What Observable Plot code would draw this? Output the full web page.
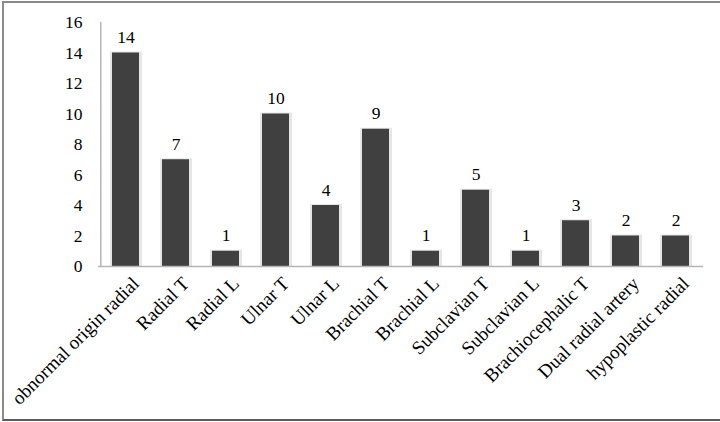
<!DOCTYPE html>
<html><head><meta charset="utf-8">
<script src="https://cdn.jsdelivr.net/npm/d3@7"></script>
<script src="https://cdn.jsdelivr.net/npm/@observablehq/plot@0.6"></script>
<style>
body{margin:0;background:#fff;overflow:hidden}
#wrap{position:relative;width:720px;height:422px;overflow:hidden}
#frame{position:absolute;left:2px;top:1px;width:760px;height:416px;border:2px solid #8a8a8a;border-bottom-color:#5a5a5a;border-right:none;pointer-events:none}
</style></head><body><div id="wrap"><div id="frame"></div></div>
<script>
const categories = ["obnormal origin radial","Radial T","Radial L","Ulnar T","Ulnar L","Brachial T","Brachial L","Subclavian T","Subclavian L","Brachiocephalic T","Dual radial artery","hypoplastic radial"];
const counts = [14,7,1,10,4,9,1,5,1,3,2,2];
const yTicks = [0,2,4,6,8,10,12,14,16];

const data = categories.map((c,i)=>({category:c,count:counts[i]}));
const W = 720, H = 422, mL = 98, mR = 17;
const step = (W - mL - mR) / categories.length;

const chart = Plot.plot({
  width: W, height: H,
  marginLeft: mL, marginRight: mR, marginTop: 22, marginBottom: 156,
  style: {fontFamily: "'Liberation Serif','Times New Roman',serif", fontSize: "17px", color: "#000", background: "transparent"},
  x: {domain: categories, paddingInner: 0.47, paddingOuter: 0.235, label: null},
  y: {domain: [0, 16], label: null},
  marks: [
    Plot.barY(data, {x: "category", y: "count", fill: "#e6e6e6", insetLeft: -2, insetRight: -3, insetTop: -1}),
    Plot.barY(data, {x: "category", y: "count", fill: "#404040"}),
    Plot.ruleY([0], {stroke: "#b5b5b5", strokeWidth: 1.5}),
    Plot.ruleX([categories[0]], {y1: 0, y2: 16, stroke: "#b5b5b5", strokeWidth: 1.5, dx: -step / 2}),
    Plot.axisY({ticks: yTicks, tickSize: 0, tickPadding: 16, fontSize: 17.5}),
    Plot.axisX({tickSize: 0, tickPadding: 0, tickRotate: -45, textAnchor: "end", lineAnchor: "middle", dx: 10, dy: 14, fontSize: 19}),
    Plot.text(data, {x: "category", y: "count", text: d => String(d.count), lineAnchor: "bottom", dy: -10, fontSize: 17.5})
  ]
});
chart.style.position = "absolute";
chart.style.left = "0px";
chart.style.top = "0px";
document.getElementById("wrap").prepend(chart);
</script>
</body></html>
